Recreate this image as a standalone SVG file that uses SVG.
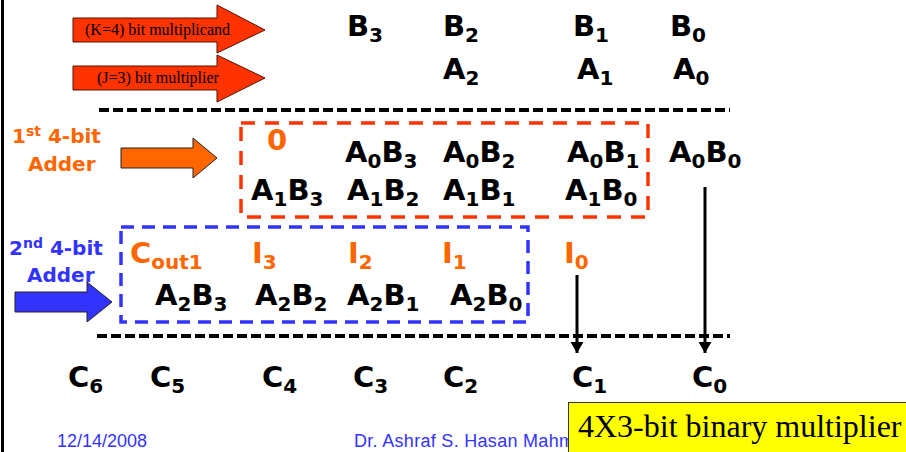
<svg xmlns="http://www.w3.org/2000/svg" width="906" height="452" viewBox="0 0 906 452">
<style>
.t{font-family:"DejaVu Sans",Verdana,sans-serif;font-weight:bold;font-size:29px;fill:#000}
.s{font-size:20px}
.o{fill:#FF6600}
.lbl{font-family:"DejaVu Sans",Verdana,sans-serif;font-weight:bold;font-size:20px}
.sup{font-size:14px}
.tm{font-family:"Liberation Serif","Times New Roman",serif;fill:#000}
.ft{font-family:"Liberation Sans",Arial,sans-serif;font-size:18px;fill:#3333FF}
.dl{stroke:#000;stroke-width:4;stroke-dasharray:10 4;fill:none}
.arr{stroke:#000;stroke-width:3;fill:none}
</style>
<defs>
<marker id="ah" markerUnits="userSpaceOnUse" markerWidth="14" markerHeight="14" refX="11" refY="7" orient="auto">
<path d="M0,0.5 L11,7 L0,13.5 Z" fill="#000"/>
</marker>
</defs>
<rect x="0" y="0" width="906" height="452" fill="#fff"/>
<line x1="2.5" y1="0" x2="2.5" y2="452" stroke="#000" stroke-width="3"/>

<g id="multiplicand-arrow">
<path d="M73,18 H217 V5 L265,30 L217,53 V42 H73 Z" fill="#FF3300" stroke="#551100" stroke-width="1"/>
<text class="tm" x="85" y="35" font-size="16">(K=4) bit multiplicand</text>
</g>
<g id="multiplier-arrow">
<path d="M73,66 H217 V55 L265,78 L217,102 V90 H73 Z" fill="#FF3300" stroke="#551100" stroke-width="1"/>
<text class="tm" x="97" y="83" font-size="16">(J=3) bit multiplier</text>
</g>

<g id="operands">
<text class="t" x="347" y="36">B<tspan class="s" dy="6">3</tspan></text>
<text class="t" x="443" y="36">B<tspan class="s" dy="6">2</tspan></text>
<text class="t" x="573" y="36">B<tspan class="s" dy="6">1</tspan></text>
<text class="t" x="670" y="36">B<tspan class="s" dy="6">0</tspan></text>
<text class="t" x="443" y="79">A<tspan class="s" dy="6">2</tspan></text>
<text class="t" x="577" y="79">A<tspan class="s" dy="6">1</tspan></text>
<text class="t" x="673" y="79">A<tspan class="s" dy="6">0</tspan></text>
</g>

<g id="adder1-label">
<text class="lbl o" x="12" y="143">1<tspan class="sup" dy="-7">st</tspan><tspan dy="7"> 4-bit</tspan></text>
<text class="lbl o" x="28" y="171">Adder</text>
<path d="M121,148 H193 V138 L217,158 L193,178 V168 H121 Z" fill="#FF6600" stroke="#222" stroke-width="1"/>
</g>

<g id="adder1">
<rect x="241" y="123" width="407" height="94" fill="none" stroke="#FF3300" stroke-width="3.5" stroke-dasharray="14 10"/>
<text class="t o" x="267" y="150">0</text>
<text class="t" x="345" y="162">A<tspan class="s" dy="6">0</tspan><tspan dy="-6">B</tspan><tspan class="s" dy="6">3</tspan></text>
<text class="t" x="443" y="162">A<tspan class="s" dy="6">0</tspan><tspan dy="-6">B</tspan><tspan class="s" dy="6">2</tspan></text>
<text class="t" x="567" y="162">A<tspan class="s" dy="6">0</tspan><tspan dy="-6">B</tspan><tspan class="s" dy="6">1</tspan></text>
<text class="t" x="251" y="200">A<tspan class="s" dy="6">1</tspan><tspan dy="-6">B</tspan><tspan class="s" dy="6">3</tspan></text>
<text class="t" x="347" y="200">A<tspan class="s" dy="6">1</tspan><tspan dy="-6">B</tspan><tspan class="s" dy="6">2</tspan></text>
<text class="t" x="443" y="200">A<tspan class="s" dy="6">1</tspan><tspan dy="-6">B</tspan><tspan class="s" dy="6">1</tspan></text>
<text class="t" x="565" y="200">A<tspan class="s" dy="6">1</tspan><tspan dy="-6">B</tspan><tspan class="s" dy="6">0</tspan></text>
</g>
<g id="a0b0">
<text class="t" x="669" y="162">A<tspan class="s" dy="6">0</tspan><tspan dy="-6">B</tspan><tspan class="s" dy="6">0</tspan></text>
</g>

<g id="adder2-label">
<text class="lbl" fill="#3333FF" x="9" y="255">2<tspan class="sup" dy="-7">nd</tspan><tspan dy="7"> 4-bit</tspan></text>
<text class="lbl" fill="#3333FF" x="27" y="282">Adder</text>
<path d="M15,292 H87 V282 L112,302 L87,322 V312 H15 Z" fill="#3333FF" stroke="#222" stroke-width="1"/>
</g>

<g id="adder2">
<rect x="121" y="227" width="407" height="95" fill="none" stroke="#3333FF" stroke-width="3.5" stroke-dasharray="13 8"/>
<text class="t o" x="130" y="263">C<tspan class="s" dy="6">out1</tspan></text>
<text class="t o" x="252" y="263">I<tspan class="s" dy="6">3</tspan></text>
<text class="t o" x="348" y="263">I<tspan class="s" dy="6">2</tspan></text>
<text class="t o" x="442" y="263">I<tspan class="s" dy="6">1</tspan></text>
<text class="t" x="155" y="305">A<tspan class="s" dy="6">2</tspan><tspan dy="-6">B</tspan><tspan class="s" dy="6">3</tspan></text>
<text class="t" x="255" y="305">A<tspan class="s" dy="6">2</tspan><tspan dy="-6">B</tspan><tspan class="s" dy="6">2</tspan></text>
<text class="t" x="347" y="305">A<tspan class="s" dy="6">2</tspan><tspan dy="-6">B</tspan><tspan class="s" dy="6">1</tspan></text>
<text class="t" x="450" y="305">A<tspan class="s" dy="6">2</tspan><tspan dy="-6">B</tspan><tspan class="s" dy="6">0</tspan></text>
</g>
<g id="i0">
<text class="t o" x="564" y="263">I<tspan class="s" dy="6">0</tspan></text>
</g>

<g id="connectors">
<line class="dl" x1="99" y1="110" x2="730" y2="110"/>
<line class="dl" x1="97" y1="336" x2="730" y2="336"/>
<line class="arr" x1="577" y1="275" x2="577" y2="353" marker-end="url(#ah)"/>
<line class="arr" x1="705" y1="187" x2="705" y2="353" marker-end="url(#ah)"/>
</g>

<g id="result">
<text class="t" x="68" y="387">C<tspan class="s" dy="6">6</tspan></text>
<text class="t" x="150" y="387">C<tspan class="s" dy="6">5</tspan></text>
<text class="t" x="262" y="387">C<tspan class="s" dy="6">4</tspan></text>
<text class="t" x="353" y="387">C<tspan class="s" dy="6">3</tspan></text>
<text class="t" x="443" y="387">C<tspan class="s" dy="6">2</tspan></text>
<text class="t" x="572" y="387">C<tspan class="s" dy="6">1</tspan></text>
<text class="t" x="692" y="387">C<tspan class="s" dy="6">0</tspan></text>
</g>

<g id="footer">
<text class="ft" x="57" y="447">12/14/2008</text>
<text class="ft" x="354" y="447" letter-spacing="0.3">Dr. Ashraf S. Hasan Mahmoud</text>
</g>
<g id="title">
<rect x="568.5" y="402.5" width="340" height="55" fill="#FFFF00" stroke="#333" stroke-width="1"/>
<text class="tm" x="578" y="437" font-size="32">4X3-bit binary multiplier</text>
</g>
</svg>
